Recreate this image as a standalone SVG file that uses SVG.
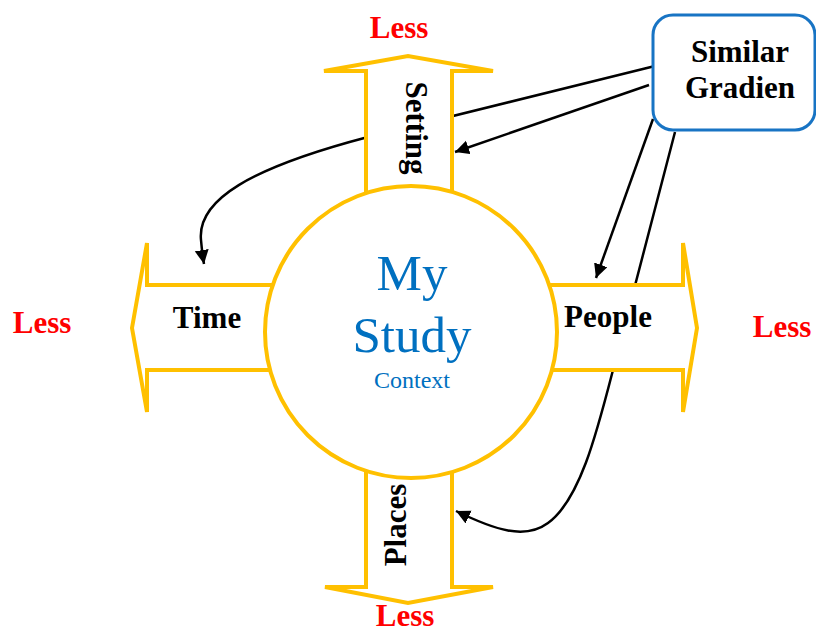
<svg xmlns="http://www.w3.org/2000/svg" width="816" height="634" viewBox="0 0 816 634">
<style>
.arrow{fill:#fff;stroke:#FFC000;stroke-width:4;stroke-linejoin:miter}
.conn{fill:none;stroke:#000;stroke-width:2.5}
.lbl{font-family:"Liberation Serif","Times New Roman",serif;font-weight:bold;font-size:31px;fill:#000;text-anchor:middle}
.less{font-family:"Liberation Serif","Times New Roman",serif;font-weight:bold;font-size:31px;fill:#FF0000;text-anchor:middle}
.ctr{font-family:"Liberation Serif","Times New Roman",serif;fill:#0070C0;text-anchor:middle}
</style>
<defs>
<marker id="ah" markerUnits="userSpaceOnUse" markerWidth="16" markerHeight="16" refX="14" refY="7" orient="auto" viewBox="0 0 16 16">
<path d="M0,0 L14,7 L0,14 z" fill="#000"/>
</marker>
</defs>
<rect width="816" height="634" fill="#fff"/>
<g id="connectors">
<path class="conn" d="M655,66 L368,137 C250,168 197,200 201,240 C202,252 203,258 204,264" marker-end="url(#ah)"/>
<path class="conn" d="M649,85 L455,152" marker-end="url(#ah)"/>
<path class="conn" d="M653,119 L596,278" marker-end="url(#ah)"/>
<path class="conn" d="M675,132 L613,370 C597,432 580,500 548,523 C525,540 495,530 456,511" marker-end="url(#ah)"/>
</g>
<g id="setting">
<polygon class="arrow" points="366,210 366,71 324,71 408,56 493,71 452,71 452,210"/>
<text class="lbl" transform="translate(406,128) rotate(90)">Setting</text>
</g>
<g id="places">
<polygon class="arrow" points="366,460 366,587 325,587 408,603 493,587 452,587 452,460"/>
<text class="lbl" transform="translate(406,525) rotate(-90)">Places</text>
</g>
<g id="time">
<polygon class="arrow" points="280,285 147,285 147,243 132,328 147,412 147,370 280,370"/>
<text class="lbl" x="207" y="328">Time</text>
</g>
<g id="people">
<polygon class="arrow" points="540,285 683,285 683,243 697,328 683,412 683,370 540,370"/>
<text class="lbl" x="608" y="327">People</text>
</g>
<g id="my-study">
<circle cx="411" cy="332" r="146" fill="#fff" stroke="#FFC000" stroke-width="4"/>
<text class="ctr" x="412" y="290" font-size="51">My</text>
<text class="ctr" x="412" y="352" font-size="51">Study</text>
<text class="ctr" x="412" y="388" font-size="24">Context</text>
</g>
<g id="similar-gradien">
<rect x="653" y="15" width="162" height="115" rx="20" fill="#fff" stroke="#1874C4" stroke-width="3"/>
<text class="lbl" x="740" y="62">Similar</text>
<text class="lbl" x="740" y="98">Gradien</text>
</g>
<g id="less-labels">
<text class="less" x="399" y="38">Less</text>
<text class="less" x="42" y="333">Less</text>
<text class="less" x="782" y="337">Less</text>
<text class="less" x="405" y="626">Less</text>
</g>
</svg>
